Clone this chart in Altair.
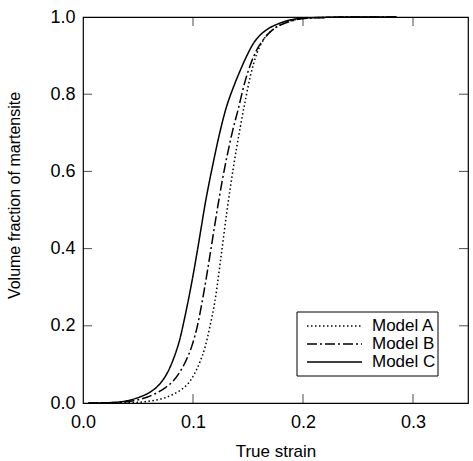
import altair as alt
import pandas as pd

# Martensite volume fraction vs. true strain for three transformation models
models = ["Model A", "Model B", "Model C"]

strain_a = [0.005, 0.04, 0.055, 0.065, 0.075, 0.083, 0.090, 0.096, 0.101, 0.106,
            0.111, 0.1155, 0.120, 0.1255, 0.131, 0.137, 0.143, 0.148, 0.152, 0.158,
            0.165, 0.173, 0.181, 0.19, 0.20, 0.22, 0.25, 0.285]
frac_a = [0.0, 0.0005, 0.003, 0.007, 0.014, 0.024, 0.036, 0.052, 0.074, 0.104,
          0.145, 0.20, 0.265, 0.38, 0.50, 0.615, 0.715, 0.79, 0.845, 0.905,
          0.945, 0.968, 0.982, 0.991, 0.996, 0.999, 1.0, 1.0]

strain_b = [0.005, 0.03, 0.046, 0.058, 0.067, 0.075, 0.082, 0.088, 0.094, 0.099,
            0.104, 0.1085, 0.113, 0.1175, 0.122, 0.1265, 0.131, 0.136, 0.141, 0.147,
            0.152, 0.158, 0.165, 0.172, 0.18, 0.19, 0.20, 0.22, 0.25, 0.285]
frac_b = [0.0, 0.001, 0.006, 0.015, 0.026, 0.04, 0.057, 0.08, 0.112, 0.148,
          0.20, 0.265, 0.34, 0.42, 0.50, 0.575, 0.64, 0.705, 0.76, 0.83,
          0.875, 0.915, 0.945, 0.966, 0.98, 0.99, 0.996, 0.999, 1.0, 1.0]

strain_c = [0.005, 0.02, 0.034, 0.043, 0.052, 0.062, 0.070, 0.077, 0.083, 0.088,
            0.092, 0.096, 0.100, 0.104, 0.1075, 0.111, 0.1145, 0.118, 0.1235, 0.130,
            0.137, 0.143, 0.149, 0.155, 0.161, 0.167, 0.178, 0.188, 0.20, 0.22,
            0.25, 0.285]
frac_c = [0.0, 0.0005, 0.003, 0.008, 0.016, 0.03, 0.05, 0.08, 0.12, 0.165,
          0.215, 0.27, 0.33, 0.395, 0.455, 0.515, 0.568, 0.617, 0.69, 0.763,
          0.82, 0.862, 0.90, 0.932, 0.953, 0.967, 0.983, 0.992, 0.997, 0.999,
          1.0, 1.0]

x_ticks = [0.1, 0.2, 0.3]
y_ticks = [0.2, 0.4, 0.6, 0.8]

rows = []
for name, xs, ys in zip(models, [strain_a, strain_b, strain_c], [frac_a, frac_b, frac_c]):
    for xv, yv in zip(xs, ys):
        rows.append({"model": name, "strain": xv, "fraction": yv})
df = pd.DataFrame(rows)

FONT = "Liberation Sans"
x_scale = alt.Scale(domain=[0, 0.35], nice=False, zero=False)
y_scale = alt.Scale(domain=[0, 1], nice=False)

dashes = [[1.5, 2.5], [10, 3, 2, 3], [1, 0]]
dash_scale = alt.Scale(domain=models, range=dashes)
LINE_W = 1.5

curves = alt.Chart(df).mark_line(
    color="black", strokeWidth=LINE_W, interpolate="monotone"
).encode(
    x=alt.X("strain:Q", scale=x_scale, title="True strain",
            axis=alt.Axis(values=[0, 0.1, 0.2, 0.3], format=".1f")),
    y=alt.Y("fraction:Q", scale=y_scale, title="Volume fraction of martensite",
            axis=alt.Axis(values=[0, 0.2, 0.4, 0.6, 0.8, 1.0], format=".1f")),
    strokeDash=alt.StrokeDash("model:N", scale=dash_scale, legend=None),
)

# Inward-pointing tick marks on all four sides of the frame
xt = pd.DataFrame({"t": x_ticks})
yt = pd.DataFrame({"t": y_ticks})
tick_len = 9

bottom_ticks = alt.Chart(xt).mark_tick(
    orient="vertical", size=tick_len, thickness=1, color="black", yOffset=-tick_len / 2
).encode(x=alt.X("t:Q", scale=x_scale), y=alt.YDatum(0))
top_ticks = alt.Chart(xt).mark_tick(
    orient="vertical", size=tick_len, thickness=1, color="black", yOffset=tick_len / 2
).encode(x=alt.X("t:Q", scale=x_scale), y=alt.YDatum(1))
left_ticks = alt.Chart(yt).mark_tick(
    orient="horizontal", size=tick_len, thickness=1, color="black", xOffset=tick_len / 2
).encode(y=alt.Y("t:Q", scale=y_scale), x=alt.XDatum(0))
right_ticks = alt.Chart(yt).mark_tick(
    orient="horizontal", size=tick_len, thickness=1, color="black", xOffset=-tick_len / 2
).encode(y=alt.Y("t:Q", scale=y_scale), x=alt.XDatum(0.35))

# Boxed key in the lower right of the plot area
box_left, box_right, box_top, box_bottom = 214, 355, 295, 359
row_y0, row_step = 309, 18
sample_left, sample_right, label_left = 224, 279, 289

key_box = alt.Chart(pd.DataFrame({"k": [0]})).mark_rect(
    fill="white", stroke="black", strokeWidth=1
).encode(
    x=alt.value(box_left), x2=alt.value(box_right),
    y=alt.value(box_top), y2=alt.value(box_bottom),
)

key_layers = [key_box]
for i, name in enumerate(models):
    entry = pd.DataFrame({"model": [name]})
    key_layers.append(
        alt.Chart(entry).mark_rule(color="black", strokeWidth=LINE_W).encode(
            x=alt.value(sample_left), x2=alt.value(sample_right),
            y=alt.value(row_y0 + row_step * i),
            strokeDash=alt.StrokeDash("model:N", scale=dash_scale, legend=None),
        )
    )
    key_layers.append(
        alt.Chart(entry).mark_text(
            align="left", baseline="middle", font=FONT, fontSize=17, color="black"
        ).encode(
            x=alt.value(label_left), y=alt.value(row_y0 + row_step * i), text="model:N"
        )
    )

chart = alt.layer(
    curves, bottom_ticks, top_ticks, left_ticks, right_ticks, *key_layers
).properties(
    width=385, height=386,
    autosize=alt.AutoSizeParams(type="none"),
    padding={"left": 83, "top": 17, "right": 5, "bottom": 58},
    background="white",
).configure_view(
    stroke="black", strokeWidth=1.2
).configure_axis(
    ticks=False, tickSize=0, domain=False, grid=False, labelFlush=False,
    labelFont=FONT, labelFontSize=18, labelColor="black", labelPadding=10,
    titleFont=FONT, titleFontSize=16, titleFontWeight="normal", titleColor="black",
).configure_axisX(
    titlePadding=12, titleFontSize=17,
).configure_axisY(
    labelPadding=8, titlePadding=27, titleY=178,
)

chart.save("out.html", embed_options={"renderer": "svg", "actions": False})
